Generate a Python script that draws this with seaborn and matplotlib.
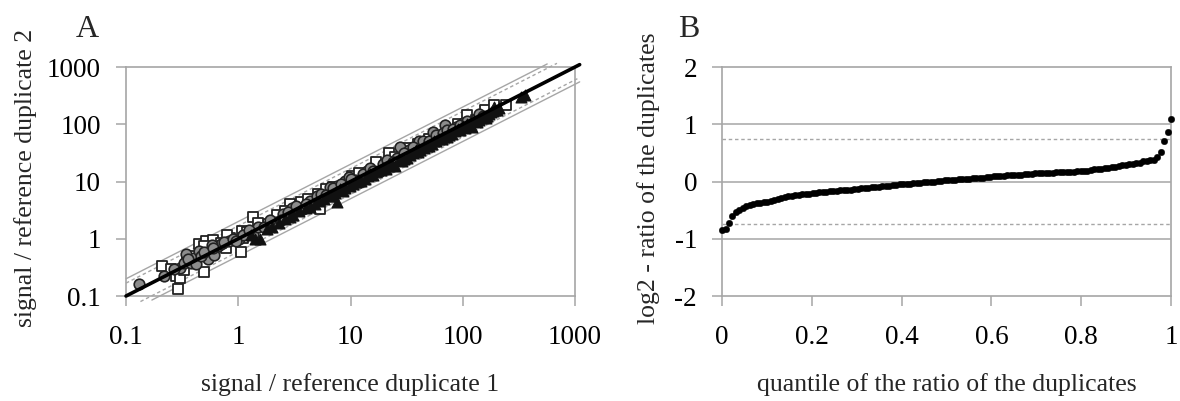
import matplotlib
matplotlib.use("Agg")
import matplotlib.pyplot as plt
import numpy as np
import pandas as pd
import seaborn as sns

sns.set_theme(style="ticks")
plt.rcParams["font.family"] = ["Liberation Serif", "DejaVu Serif"]

GRAY = "#a6a6a6"

# ── Panel A data: duplicate 1 vs duplicate 2, three sample groups ───────────
sq_dup1 = [0.21, 0.29, 0.28, 0.30, 0.35, 0.38, 0.45, 0.50, 0.52, 0.48,
           0.77, 0.84, 0.80, 1.06, 1.07, 1.34, 1.84, 2.9, 3.6, 5.3,
           5.1, 5.5, 7.0, 10.4, 21.9, 17, 60, 110, 158, 243,
           130, 3.2, 0.33, 40, 0.25, 0.40, 0.60, 0.70, 1.2, 1.5,
           2.2, 2.6, 4.2, 6.0, 8, 12, 25, 32, 50, 75,
           90, 190, 0.5, 1.1]
sq_dup2 = [0.33, 0.13, 0.22, 0.21, 0.41, 0.47, 0.81, 0.26, 0.92, 0.55,
           0.70, 1.05, 1.15, 0.58, 1.38, 2.37, 1.80, 4.05, 4.3, 3.3,
           6.0, 5.2, 8.0, 12.7, 32, 22, 62, 145, 178, 214,
           120, 3.0, 0.28, 45, 0.30, 0.50, 0.95, 0.85, 1.3, 1.9,
           2.6, 3.0, 5.0, 7.5, 7, 14, 27, 38, 55, 80,
           100, 215, 0.75, 1.05]

ci_dup1 = [0.13, 0.22, 0.30, 0.33, 0.34, 0.38, 0.40, 0.54, 0.56, 0.61,
           0.66, 0.70, 0.82, 1.02, 1.34, 1.5, 1.7, 2.17, 2.5, 2.4,
           3.0, 3.75, 4.4, 5.0, 6.5, 7.6, 8.9, 9.6, 11, 12.2,
           14, 18, 19.5, 23, 26, 27.5, 33, 41, 47, 54,
           62, 69, 78, 87, 101, 120, 0.45, 0.58, 0.27, 0.36,
           0.42, 0.47, 0.50, 0.75, 0.9, 1.1, 1.25, 1.9, 2.8, 3.3,
           4.0, 5.5, 6.0, 7.0, 8.2, 10, 13, 15, 16, 21,
           24, 30, 36, 44, 50, 58, 66, 72, 82, 95,
           110, 130, 140, 150, 0.6, 0.95]
ci_dup2 = [0.16, 0.22, 0.31, 0.38, 0.54, 0.38, 0.46, 0.44, 0.62, 0.53,
           0.75, 0.82, 0.92, 0.99, 1.21, 1.6, 1.58, 1.94, 2.7, 2.1,
           3.4, 3.3, 4.6, 5.6, 7.9, 8.5, 10.4, 11.9, 10.5, 9.7,
           15, 14.5, 20, 21, 26, 40, 36, 52, 44, 73,
           60, 96, 70, 90, 105, 110, 0.60, 0.78, 0.30, 0.45,
           0.36, 0.50, 0.58, 0.88, 1.0, 1.15, 1.45, 2.1, 2.9, 3.7,
           4.1, 6.0, 5.8, 7.6, 9.0, 11, 13.5, 17, 15, 24,
           22, 32, 40, 50, 52, 66, 70, 80, 84, 98,
           115, 125, 150, 140, 0.7, 0.9]

tr_dup1 = [1.4, 1.57, 2.0, 2.6, 3.1, 4.0, 4.8, 5.8, 6.3, 7.6,
           8.5, 9.8, 11.2, 12.5, 14.3, 16, 18.5, 22, 25, 28.5,
           32, 36, 40, 45, 50, 58, 65, 72, 80, 94,
           105, 120, 135, 152, 170, 190, 200, 331, 355, 160,
           110, 1.3, 1.8, 2.3, 2.9, 3.5, 4.4, 5.2, 6.8, 7.2,
           8, 9, 10.5, 11.8, 13.5, 15, 17, 19.5, 20.5, 23.5,
           27, 30, 34, 38, 42, 48, 53, 55, 62, 68,
           75, 85, 90, 100, 115, 125, 140, 145, 165, 180,
           185, 195, 210]
tr_dup2 = [1.0, 0.99, 1.6, 2.2, 2.6, 3.5, 4.0, 4.9, 5.5, 4.3,
           6.8, 8.3, 9.8, 10.2, 12.7, 13, 16, 18.5, 19, 23,
           26, 31, 33, 38, 42, 52, 55, 60, 68, 78,
           85, 90, 110, 136, 150, 200, 180, 302, 320, 128,
           100, 1.15, 1.5, 1.9, 2.4, 3.0, 3.6, 4.5, 5.6, 6.4,
           7.5, 7.8, 9.0, 10.8, 11.2, 13.8, 15, 17, 16.5, 20,
           24, 25, 29, 35, 36, 42, 46, 50, 56, 60,
           66, 75, 82, 92, 98, 112, 120, 130, 140, 165,
           170, 175, 190]

# fold-change bands drawn around the identity line
band_solid = [2.0, 0.5]
band_dotted = [1.68, 1 / 1.68]

# ── Panel B data: sorted log2 ratios of the duplicates ──────────────────────
log2_ratio = [
    -0.85, -0.83, -0.72, -0.61, -0.53, -0.49, -0.46, -0.43, -0.41, -0.40,
    -0.38, -0.37, -0.36, -0.35, -0.34, -0.33, -0.31, -0.29, -0.27, -0.26,
    -0.25, -0.24, -0.23, -0.22, -0.22, -0.21, -0.20, -0.20, -0.19, -0.18,
    -0.18, -0.17, -0.17, -0.16, -0.15, -0.15, -0.14, -0.14, -0.13, -0.13,
    -0.12, -0.12, -0.11, -0.10, -0.10, -0.09, -0.08, -0.08, -0.07, -0.06,
    -0.06, -0.05, -0.05, -0.04, -0.04, -0.03, -0.03, -0.02, -0.01, -0.01,
    0.00, 0.00, 0.01, 0.01, 0.02, 0.02, 0.03, 0.03, 0.04, 0.04,
    0.05, 0.05, 0.06, 0.06, 0.07, 0.07, 0.08, 0.08, 0.09, 0.09,
    0.10, 0.10, 0.11, 0.11, 0.12, 0.12, 0.12, 0.13, 0.13, 0.13,
    0.14, 0.14, 0.14, 0.15, 0.15, 0.15, 0.16, 0.16, 0.16, 0.17,
    0.17, 0.17, 0.18, 0.18, 0.19, 0.19, 0.20, 0.21, 0.21, 0.22,
    0.23, 0.24, 0.25, 0.26, 0.27, 0.28, 0.29, 0.30, 0.31, 0.32,
    0.33, 0.35, 0.36, 0.37, 0.38, 0.42, 0.52, 0.70, 0.86, 1.10,
]
cutoff = 0.75

FS = 19.5       # tick labels
FS_LABEL = 18.5  # axis titles


def style_axes(ax):
    for sp in ax.spines.values():
        sp.set_color(GRAY)
        sp.set_linewidth(1.2)
        sp.set_visible(True)
    ax.tick_params(direction="out", length=7, width=1.1, color=GRAY,
                   labelsize=FS, labelcolor="black")
    ax.tick_params(axis="x", pad=14)
    ax.tick_params(axis="y", pad=11)
    ax.minorticks_off()


fig = plt.figure(figsize=(11.8, 4.01), dpi=100)
axA = fig.add_axes([0.1068, 0.2618, 0.3805, 0.5711])
axB = fig.add_axes([0.6119, 0.2618, 0.3805, 0.5711])

# ── Panel A ─────────────────────────────────────────────────────────────────
for fac in band_solid:
    x0, x1 = max(0.1, 0.085 / fac), min(1100, 1130 / fac)
    axA.plot([x0, x1], [x0 * fac, x1 * fac], color=GRAY, lw=1.0,
             clip_on=False, zorder=1)
for fac in band_dotted:
    x0, x1 = max(0.1, 0.08 / fac), min(1050, 1160 / fac)
    axA.plot([x0, x1], [x0 * fac, x1 * fac], color=GRAY, lw=1.0,
             ls=(0, (2.5, 2)), clip_on=False, zorder=1)

sq = pd.DataFrame({"d1": sq_dup1, "d2": sq_dup2})
ci = pd.DataFrame({"d1": ci_dup1, "d2": ci_dup2})
tr = pd.DataFrame({"d1": tr_dup1, "d2": tr_dup2})
sns.scatterplot(data=sq, x="d1", y="d2", ax=axA, marker="s", s=50,
                color="white", edgecolor="#222222", linewidth=1.3, zorder=3)
sns.scatterplot(data=ci, x="d1", y="d2", ax=axA, marker="o", s=58,
                color="#8c8c8c", edgecolor="#222222", linewidth=1.2, zorder=4)
sns.scatterplot(data=tr, x="d1", y="d2", ax=axA, marker="^", s=62,
                color="#111111", edgecolor="#111111", linewidth=0.8, zorder=5)

axA.plot([0.1, 1100], [0.1, 1100], color="black", lw=2.6, clip_on=False,
         zorder=6)

axA.set_xscale("log")
axA.set_yscale("log")
axA.set_xlim(0.1, 1000)
axA.set_ylim(0.1, 1000)
ticksA = [0.1, 1, 10, 100, 1000]
labelsA = ["0.1", "1", "10", "100", "1000"]
axA.set_xticks(ticksA)
axA.set_xticklabels(labelsA)
axA.set_yticks(ticksA)
axA.set_yticklabels(labelsA)
style_axes(axA)
axA.set_xlabel("signal / reference duplicate 1", fontsize=FS_LABEL)
axA.set_ylabel("signal / reference duplicate 2", fontsize=FS_LABEL)
axA.xaxis.set_label_coords(0.5, -0.335)
axA.yaxis.set_label_coords(-0.198, 0.515)

# ── Panel B ─────────────────────────────────────────────────────────────────
dfB = pd.DataFrame({"ratio": sorted(log2_ratio)})
dfB["quantile"] = np.arange(len(dfB)) / (len(dfB) - 1)

for yv in [-1, 0, 1]:
    axB.axhline(yv, color=GRAY, lw=1.1, zorder=1)
for yv in [-cutoff, cutoff]:
    axB.axhline(yv, color=GRAY, lw=1.0, ls=(0, (2.5, 2)), zorder=1)

sns.scatterplot(data=dfB, x="quantile", y="ratio", ax=axB, s=22,
                color="black", edgecolor="black", linewidth=0.3, zorder=3,
                clip_on=False)
axB.set_xlim(0, 1)
axB.set_ylim(-2, 2)
axB.set_xticks([0, 0.2, 0.4, 0.6, 0.8, 1])
axB.set_xticklabels(["0", "0.2", "0.4", "0.6", "0.8", "1"])
axB.set_yticks([-2, -1, 0, 1, 2])
axB.set_yticklabels(["-2", "-1", "0", "1", "2"])
style_axes(axB)
axB.set_xlabel("quantile of the ratio of the duplicates", fontsize=FS_LABEL)
axB.set_ylabel("log2 - ratio of the duplicates", fontsize=FS_LABEL)
axB.xaxis.set_label_coords(0.5, -0.335)
axB.yaxis.set_label_coords(-0.138, 0.515)

fig.text(0.064, 0.908, "A", fontsize=23, ha="left", va="baseline")
fig.text(0.575, 0.908, "B", fontsize=23, ha="left", va="baseline")

fig.savefig("out.png", dpi=100)
